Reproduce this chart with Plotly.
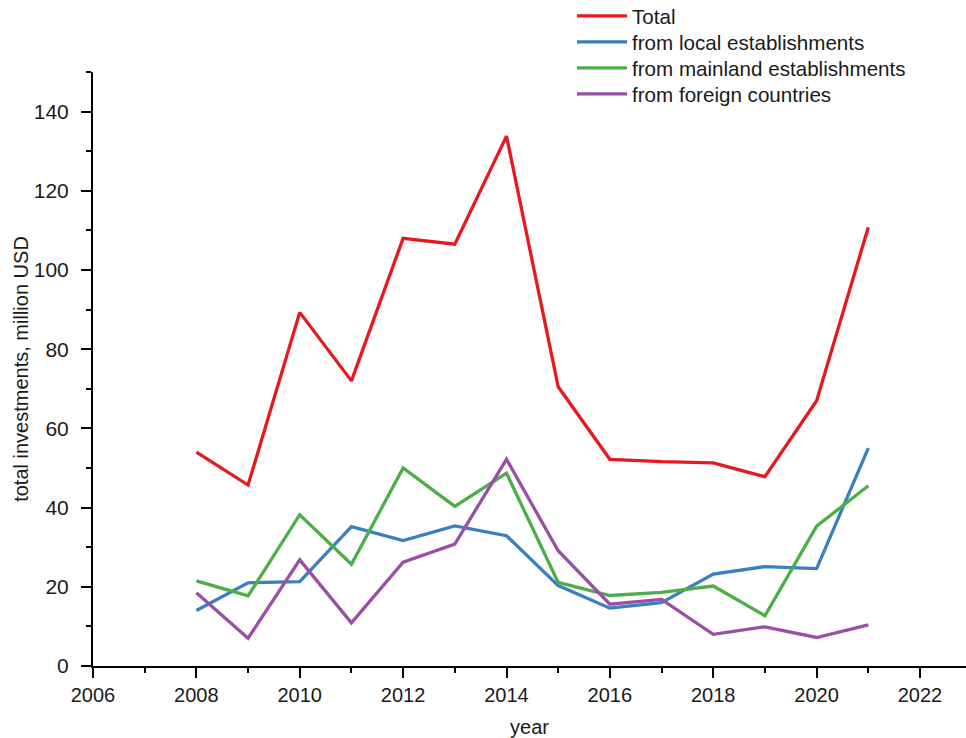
import plotly.graph_objects as go

# Annual investments by source, million USD
years = [2008, 2009, 2010, 2011, 2012, 2013, 2014, 2015, 2016, 2017, 2018, 2019, 2020, 2021]
total = [54.0, 45.7, 89.3, 72.0, 108.0, 106.5, 133.8, 70.5, 52.2, 51.6, 51.3, 47.8, 67.0, 110.8]
local = [14.0, 21.0, 21.3, 35.2, 31.7, 35.4, 32.9, 20.3, 14.6, 16.0, 23.2, 25.1, 24.6, 55.0]
mainland = [21.5, 17.7, 38.2, 25.7, 50.0, 40.3, 48.7, 21.1, 17.8, 18.6, 20.2, 12.7, 35.3, 45.5]
foreign = [18.5, 7.0, 26.8, 10.9, 26.2, 30.8, 52.2, 29.1, 15.6, 16.8, 8.0, 9.9, 7.2, 10.4]

series = [
    ("Total", total, "#e8191e"),
    ("from local establishments", local, "#3a7fc0"),
    ("from mainland establishments", mainland, "#4cae47"),
    ("from foreign countries", foreign, "#9a4fa6"),
]

FONT = "Liberation Sans, Arial, sans-serif"
W, H = 966, 738

fig = go.Figure()
# one legend per series so the rows sit tightly stacked
legend_names = ["legend", "legend2", "legend3", "legend4"]
row_centres = [16, 42, 68, 94]
for (name, values, color), lg in zip(series, legend_names):
    fig.add_trace(go.Scatter(
        x=years, y=values, name=name, mode="lines",
        line=dict(color=color, width=3.3), legend=lg, showlegend=True,
    ))

axis_common = dict(
    showline=True, linecolor="black", linewidth=2,
    ticks="outside", ticklen=10, tickwidth=2, tickcolor="black",
    showgrid=False, zeroline=False,
)

fig.update_xaxes(
    range=[2006, 2022.89], tick0=2006, dtick=2,
    minor=dict(dtick=1, ticklen=5, tickwidth=2, tickcolor="black", ticks="outside", showgrid=False),
    tickfont=dict(family=FONT, size=20, color="#1a1a1a"),
    title=dict(text="year", font=dict(family=FONT, size=20, color="#1a1a1a"), standoff=22),
    **axis_common,
)
fig.update_yaxes(
    range=[0, 150], tick0=0, dtick=20,
    minor=dict(dtick=10, ticklen=5, tickwidth=2, tickcolor="black", ticks="outside", showgrid=False),
    tickfont=dict(family=FONT, size=21, color="#1a1a1a"),
    title=dict(text="total investments, million USD", font=dict(family=FONT, size=20, color="#1a1a1a"), standoff=0),
    ticklabelstandoff=8,
    **axis_common,
)

legend_style = dict(
    xref="container", yref="container",
    x=572 / W, xanchor="left", yanchor="middle",
    bgcolor="rgba(0,0,0,0)", itemwidth=50,
    font=dict(family=FONT, size=20.6, color="#1a1a1a"),
)
legends = {lg: dict(y=1 - yc / H, **legend_style) for lg, yc in zip(legend_names, row_centres)}

fig.update_layout(
    width=W, height=H, showlegend=True,
    margin=dict(l=93, r=0, t=72, b=72, autoexpand=False),
    paper_bgcolor="white", plot_bgcolor="white",
    font=dict(family=FONT, size=20, color="#1a1a1a"),
    **legends,
)

fig.write_html("out.html")
